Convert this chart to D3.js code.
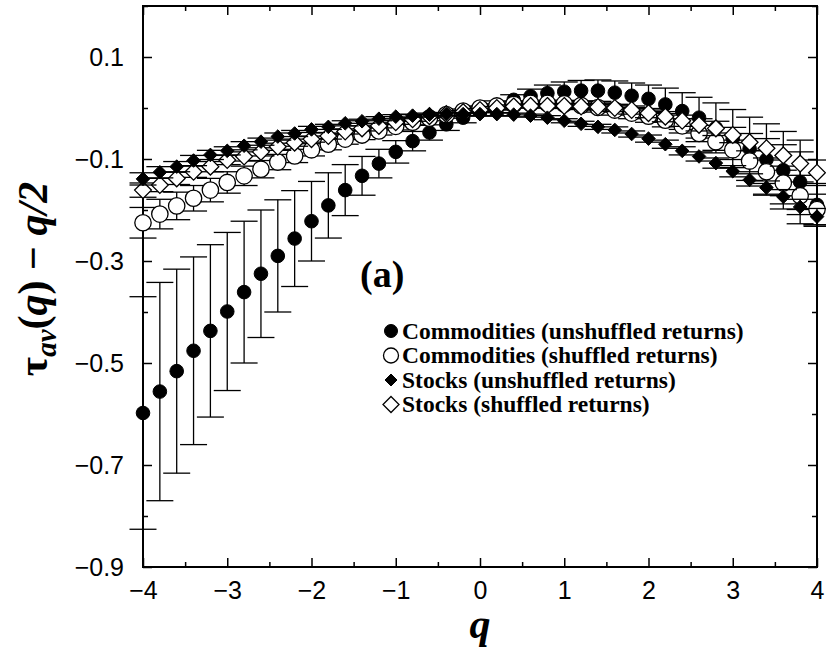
<!DOCTYPE html>
<html>
<head>
<meta charset="utf-8">
<title>tau av</title>
<script src="https://cdn.jsdelivr.net/npm/d3@7"></script>
<style>
  body { margin: 0; background: #fff; }
  .tick text { font-family: "Liberation Sans", Arial, sans-serif; }
</style>
</head>
<body>
<svg id="chart" width="826" height="651"></svg>
<script>
// q grid and the four series
var qValues = [-4, -3.8, -3.6, -3.4, -3.2, -3, -2.8, -2.6, -2.4, -2.2, -2, -1.8, -1.6, -1.4, -1.2, -1, -0.8, -0.6, -0.4, -0.2,
               0, 0.2, 0.4, 0.6, 0.8, 1, 1.2, 1.4, 1.6, 1.8, 2, 2.2, 2.4, 2.6, 2.8, 3, 3.2, 3.4, 3.6, 3.8, 4];

var commUnshuf = [-0.598, -0.556, -0.516, -0.476, -0.437, -0.399, -0.361, -0.325, -0.290, -0.256, -0.222, -0.191, -0.161, -0.133, -0.109, -0.086, -0.065, -0.048, -0.032, -0.019,
                  -0.007, 0.005, 0.016, 0.023, 0.029, 0.032, 0.034, 0.034, 0.030, 0.024, 0.018, 0.007, -0.006, -0.019, -0.039, -0.060, -0.080, -0.101, -0.122, -0.145, -0.190];
var commUnshufErr = [0.228, 0.214, 0.200, 0.184, 0.169, 0.155, 0.139, 0.125, 0.110, 0.094, 0.078, 0.064, 0.050, 0.038, 0.028, 0.022, 0.019, 0.015, 0.012, 0.010,
                     0.009, 0.009, 0.010, 0.014, 0.016, 0.019, 0.020, 0.021, 0.023, 0.025, 0.027, 0.032, 0.036, 0.040, 0.049, 0.057, 0.062, 0.070, 0.076, 0.082, 0.042];

var commShuf = [-0.225, -0.208, -0.192, -0.177, -0.161, -0.146, -0.133, -0.120, -0.106, -0.094, -0.082, -0.071, -0.061, -0.053, -0.045, -0.036, -0.028, -0.020, -0.013, -0.006,
                0.000, 0.004, 0.007, 0.009, 0.009, 0.008, 0.005, 0.001, -0.004, -0.010, -0.016, -0.024, -0.035, -0.050, -0.066, -0.082, -0.104, -0.125, -0.147, -0.172, -0.199];
var commShufErr = [0.030, 0.029, 0.027, 0.025, 0.023, 0.021, 0.019, 0.017, 0.015, 0.013, 0.012, 0.011, 0.010, 0.009, 0.008, 0.007, 0.006, 0.005, 0.004, 0.004,
                   0.004, 0.004, 0.005, 0.005, 0.006, 0.007, 0.008, 0.009, 0.010, 0.011, 0.012, 0.013, 0.014, 0.016, 0.017, 0.019, 0.021, 0.023, 0.025, 0.027, 0.030];

var stockUnshuf = [-0.139, -0.126, -0.115, -0.103, -0.092, -0.084, -0.074, -0.066, -0.056, -0.050, -0.042, -0.037, -0.030, -0.026, -0.021, -0.017, -0.015, -0.013, -0.012, -0.012,
                   -0.012, -0.012, -0.013, -0.015, -0.019, -0.025, -0.031, -0.037, -0.043, -0.051, -0.060, -0.071, -0.084, -0.095, -0.108, -0.124, -0.141, -0.156, -0.174, -0.194, -0.213];
var stockUnshufErr = [0.012, 0.011, 0.010, 0.010, 0.009, 0.008, 0.008, 0.007, 0.007, 0.006, 0.006, 0.005, 0.005, 0.004, 0.004, 0.004, 0.003, 0.003, 0.003, 0.003,
                      0.003, 0.003, 0.003, 0.003, 0.004, 0.004, 0.005, 0.005, 0.006, 0.006, 0.007, 0.008, 0.008, 0.009, 0.010, 0.011, 0.012, 0.013, 0.014, 0.015, 0.016];

var stockShuf = [-0.161, -0.151, -0.138, -0.125, -0.115, -0.102, -0.095, -0.086, -0.076, -0.068, -0.061, -0.055, -0.046, -0.040, -0.035, -0.028, -0.022, -0.016, -0.012, -0.008,
                 -0.004, 0.000, 0.003, 0.004, 0.004, 0.004, 0.003, 0.002, 0.000, -0.004, -0.010, -0.017, -0.025, -0.033, -0.040, -0.053, -0.067, -0.079, -0.093, -0.109, -0.127];
var stockShufErr = [0.014, 0.013, 0.012, 0.011, 0.010, 0.009, 0.009, 0.008, 0.007, 0.007, 0.006, 0.006, 0.005, 0.005, 0.004, 0.004, 0.004, 0.003, 0.003, 0.003,
                    0.003, 0.003, 0.003, 0.004, 0.004, 0.005, 0.005, 0.006, 0.007, 0.008, 0.009, 0.010, 0.011, 0.012, 0.014, 0.015, 0.017, 0.019, 0.021, 0.023, 0.025];

var xTicks = [-4, -3, -2, -1, 0, 1, 2, 3, 4];
var yTicks = [0.1, -0.1, -0.3, -0.5, -0.7, -0.9];
var legendLabels = ["Commodities (unshuffled returns)", "Commodities (shuffled returns)",
                    "Stocks (unshuffled returns)", "Stocks (shuffled returns)"];

var plotL = 143, plotR = 817, plotT = 6, plotB = 567;
var svg = d3.select("#chart");

var x = d3.scaleLinear().domain([-4, 4]).range([plotL, plotR]);
var y = d3.scaleLinear().domain([-0.9, 0.2]).range([plotB, plotT]);

function fmtY(d) { return d3.format(".1f")(d).replace("-", "\u2212"); }
function fmtX(d) { return String(d).replace("-", "\u2212"); }

// axes: ticks pointing inward on all four sides
var minorX = [-3.5, -2.5, -1.5, -0.5, 0.5, 1.5, 2.5, 3.5];
var minorY = [0.2, 0, -0.2, -0.4, -0.6, -0.8];

function drawAxis(axis, tr) {
  var g = svg.append("g").attr("transform", tr).call(axis);
  g.select(".domain").remove();
  g.selectAll("line").attr("stroke", "#000").attr("stroke-width", 1.5);
  return g;
}
var xb = drawAxis(d3.axisBottom(x).tickValues(xTicks).tickSize(-9).tickPadding(14).tickFormat(fmtX), "translate(0," + plotB + ")");
xb.selectAll("text").attr("font-size", 25).attr("fill", "#000");
drawAxis(d3.axisBottom(x).tickValues(minorX).tickSize(-5).tickFormat(""), "translate(0," + plotB + ")");
drawAxis(d3.axisTop(x).tickValues(xTicks).tickSize(-9).tickFormat(""), "translate(0," + plotT + ")");
drawAxis(d3.axisTop(x).tickValues(minorX).tickSize(-5).tickFormat(""), "translate(0," + plotT + ")");
var yl = drawAxis(d3.axisLeft(y).tickValues(yTicks).tickSize(-9).tickPadding(19).tickFormat(fmtY), "translate(" + plotL + ",0)");
yl.selectAll("text").attr("font-size", 25).attr("fill", "#000");
drawAxis(d3.axisLeft(y).tickValues(minorY).tickSize(-5).tickFormat(""), "translate(" + plotL + ",0)");
drawAxis(d3.axisRight(y).tickValues(yTicks).tickSize(-9).tickFormat(""), "translate(" + plotR + ",0)");
drawAxis(d3.axisRight(y).tickValues(minorY).tickSize(-5).tickFormat(""), "translate(" + plotR + ",0)");

svg.append("rect").attr("x", plotL).attr("y", plotT).attr("width", plotR - plotL).attr("height", plotB - plotT)
  .attr("fill", "none").attr("stroke", "#000").attr("stroke-width", 2);

// series, drawn in the same stacking order as the picture
var series = [
  { vals: commUnshuf, err: commUnshufErr, shape: "circle", filled: true, size: 6.8 },
  { vals: commShuf, err: commShufErr, shape: "circle", filled: false, size: 8.2 },
  { vals: stockShuf, err: stockShufErr, shape: "diamond", filled: false, size: 8.4 },
  { vals: stockUnshuf, err: stockUnshufErr, shape: "diamond", filled: true, size: 6.8 }
];
var capHalf = 13.5;

function marker(sel, s) {
  if (s.shape === "circle") {
    sel.append("circle").attr("r", s.size);
  } else {
    var r = s.size;
    sel.append("path").attr("d", "M0," + (-r) + "L" + r + ",0L0," + r + "L" + (-r) + ",0Z");
  }
  sel.selectAll("circle,path")
    .attr("fill", s.filled ? "#000" : "#fff")
    .attr("stroke", "#000").attr("stroke-width", s.filled ? 1 : 1.3);
}

series.forEach(function(s) {
  var pts = qValues.map(function(q, i) { return { q: q, v: s.vals[i], e: s.err[i] }; });
  var g = svg.append("g");
  var eb = g.selectAll("g.eb").data(pts).enter().append("g").attr("class", "eb")
    .attr("stroke", "#000").attr("stroke-width", 1.3);
  eb.append("line")
    .attr("x1", function(d) { return x(d.q); }).attr("x2", function(d) { return x(d.q); })
    .attr("y1", function(d) { return y(d.v + d.e); }).attr("y2", function(d) { return y(d.v - d.e); });
  eb.append("line")
    .attr("x1", function(d) { return x(d.q) - capHalf; }).attr("x2", function(d) { return x(d.q) + capHalf; })
    .attr("y1", function(d) { return y(d.v + d.e); }).attr("y2", function(d) { return y(d.v + d.e); });
  eb.append("line")
    .attr("x1", function(d) { return x(d.q) - capHalf; }).attr("x2", function(d) { return x(d.q) + capHalf; })
    .attr("y1", function(d) { return y(d.v - d.e); }).attr("y2", function(d) { return y(d.v - d.e); });
  var m = g.selectAll("g.pt").data(pts).enter().append("g").attr("class", "pt")
    .attr("transform", function(d) { return "translate(" + x(d.q) + "," + y(d.v) + ")"; });
  marker(m, s);
});

// panel label
svg.append("text").attr("x", 360).attr("y", 287)
  .attr("font-family", "'Liberation Serif', 'Times New Roman', serif").attr("font-weight", "bold")
  .attr("font-size", 38).text("(a)");

// legend
var legendOrder = [series[0], series[1], series[3], series[2]];
var lg = svg.append("g").selectAll("g").data(legendLabels).enter().append("g")
  .attr("transform", function(d, i) { return "translate(391," + (331 + i * 24.5) + ")"; });
lg.each(function(d, i) {
  var s = legendOrder[i];
  var ls = { shape: s.shape, filled: s.filled, size: s.shape === "circle" ? (s.filled ? 6.5 : 7.5) : (s.filled ? 6 : 8) };
  marker(d3.select(this), ls);
});
lg.append("text").attr("x", 11).attr("y", 7.5)
  .attr("font-family", "'Liberation Serif', 'Times New Roman', serif").attr("font-weight", "bold")
  .attr("font-size", 23.5).text(function(d) { return d; });

// axis titles
svg.append("text").attr("x", x(0)).attr("y", 638).attr("text-anchor", "middle")
  .attr("font-family", "'Liberation Serif', 'Times New Roman', serif").attr("font-weight", "bold")
  .attr("font-style", "italic").attr("font-size", 42).text("q");

var yt = svg.append("text").attr("transform", "translate(47,279) rotate(-90)").attr("text-anchor", "middle")
  .attr("font-family", "'Liberation Serif', 'Times New Roman', serif").attr("font-weight", "bold")
  .attr("font-size", 42);
yt.append("tspan").text("\u03c4");
yt.append("tspan").attr("font-style", "italic").attr("font-size", 29).attr("dy", 9).text("av");
yt.append("tspan").attr("dy", -9).text("(");
yt.append("tspan").attr("font-style", "italic").text("q");
yt.append("tspan").text(") \u2212 ");
yt.append("tspan").attr("font-style", "italic").text("q/2");
</script>
</body>
</html>
